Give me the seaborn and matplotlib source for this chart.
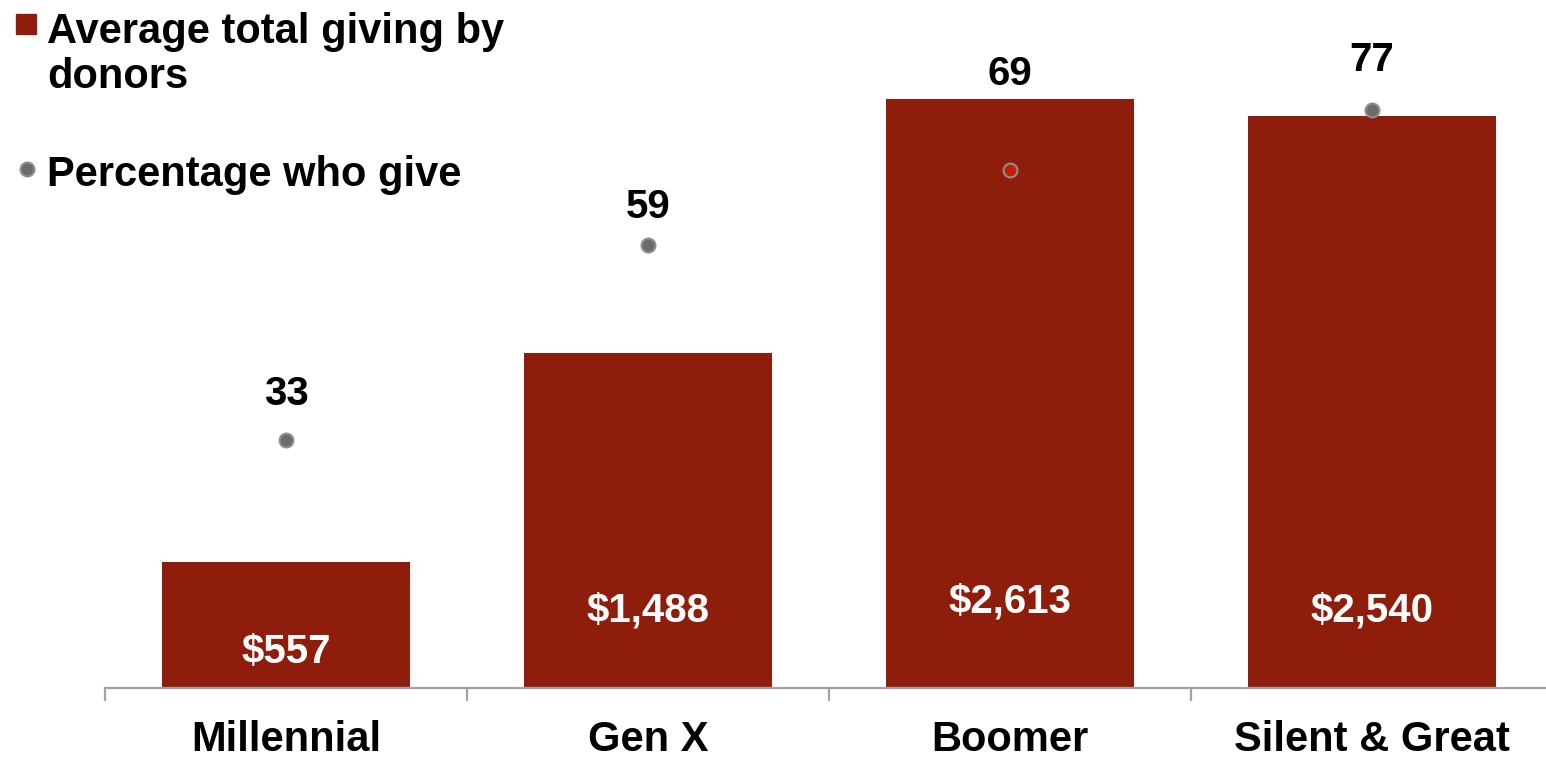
import matplotlib
matplotlib.use("Agg")
import matplotlib.pyplot as plt
from matplotlib.patches import Rectangle
from matplotlib.lines import Line2D
import seaborn as sns
import pandas as pd

# Data
generations = ["Millennial", "Gen X", "Boomer", "Silent & Great"]
avg_giving = [557, 1488, 2613, 2540]
pct_give = [33, 59, 69, 77]
giving_labels = ["$557", "$1,488", "$2,613", "$2,540"]
pct_labels = ["33", "59", "69", "77"]

# Label anchor heights (in each axis' own units)
giving_label_y = [160, 342, 382, 342]
pct_label_y = [39.1, 64.1, 81.7, 83.6]

BAR = "#8F1D0B"
DOT = "#6B6B6B"
DOT_EDGE = "#8E8E8E"
AXIS_GRAY = "#A3A3A3"

sns.set_theme(style="white")
plt.rcParams["font.family"] = ["Liberation Sans", "DejaVu Sans"]
plt.rcParams["font.weight"] = "bold"

df = pd.DataFrame({"generation": generations, "giving": avg_giving, "pct": pct_give})

W, H = 1546, 762
fig = plt.figure(figsize=(W / 100, H / 100), dpi=100)
ax = fig.add_axes([105 / W, 74 / H, 1448 / W, 676 / H])

sns.barplot(data=df, x="generation", y="giving", color=BAR, saturation=1,
            width=0.685, ax=ax, linewidth=0)
ax.set_xlim(-0.5, 3.5)
ax.set_ylim(0, 3000)
ax.set_xlabel("")
ax.set_ylabel("")
ax.set_yticks([])

for s in ["top", "left", "right"]:
    ax.spines[s].set_visible(False)
ax.spines["bottom"].set_color(AXIS_GRAY)
ax.spines["bottom"].set_linewidth(1.6)

ax.set_xticks(range(len(generations)))
ax.set_xticklabels(generations, fontsize=30, fontweight="bold", color="black")
ax.tick_params(axis="x", which="major", length=0, pad=23)
ax.set_xticks([-0.5, 0.5, 1.5, 2.5], minor=True)
ax.tick_params(axis="x", which="minor", length=9, width=1.6, color=AXIS_GRAY,
               direction="out", bottom=True)

for i, (lab, y) in enumerate(zip(giving_labels, giving_label_y)):
    ax.text(i, y, lab, ha="center", va="center", color="white",
            fontsize=29, fontweight="bold")

# Secondary axis for the percentage of givers
ax2 = ax.twinx()
ax2.set_ylim(0, 90)
ax2.set_yticks([])
for s in ["top", "left", "right", "bottom"]:
    ax2.spines[s].set_visible(False)

face_colors = [DOT, DOT, "#C41E0A", DOT]
for i, (p, fc) in enumerate(zip(pct_give, face_colors)):
    ax2.plot(i, p, marker="o", markersize=10, markerfacecolor=fc,
             markeredgecolor=DOT_EDGE, markeredgewidth=1.5, linestyle="none")

for i, (lab, y) in enumerate(zip(pct_labels, pct_label_y)):
    ax2.text(i, y, lab, ha="center", va="center", color="black",
             fontsize=29, fontweight="bold")

# Legend drawn at the top-left corner
fig.patches.append(Rectangle((16 / W, 1 - 34 / H), 20 / W, 20 / H,
                             transform=fig.transFigure, color=BAR, zorder=5))
fig.text(47 / W, 1 - 43 / H, "Average total giving by", ha="left",
         va="baseline", fontsize=30, fontweight="bold", color="black")
fig.text(47 / W, 1 - 88 / H, "donors", ha="left",
         va="baseline", fontsize=30, fontweight="bold", color="black")
fig.lines.append(Line2D([27 / W], [1 - 169 / H], marker="o", markersize=10,
                        markerfacecolor=DOT, markeredgecolor=DOT_EDGE,
                        markeredgewidth=1.5, transform=fig.transFigure))
fig.text(47 / W, 1 - 186 / H, "Percentage who give", ha="left",
         va="baseline", fontsize=30, fontweight="bold", color="black")

fig.savefig("out.png", dpi=100)
